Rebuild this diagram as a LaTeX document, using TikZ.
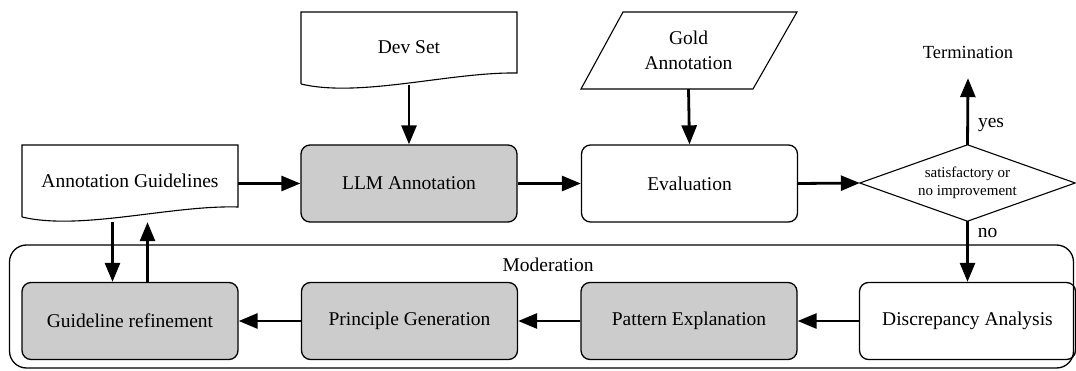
\documentclass[tikz,border=0pt]{standalone}
\usepackage{fontspec}
\setmainfont{Liberation Serif}
\newfontfamily\tnr{Liberation Serif}
\usetikzlibrary{arrows.meta}
\definecolor{boxgray}{HTML}{CCCCCC}
\begin{document}
\begin{tikzpicture}[x=1pt,y=-1pt,
  every node/.style={font=\tnr\fontsize{19.5}{24}\selectfont},
  box/.style={draw,line width=1.3pt,rounded corners=9pt,minimum width=216pt,minimum height=77pt,inner sep=0pt},
  gbox/.style={box,fill=boxgray},
  ghost/.style={minimum width=216pt,inner sep=0pt},
  shapeline/.style={draw,line width=1.1pt,line join=miter},
  arr/.style={line width=2.8pt,-{Triangle[length=19pt,width=15pt]}},
  lab/.style={inner sep=0pt}]
\useasboundingbox (0,0) rectangle (1076,371);

% Moderation container
\node[draw,line width=1.3pt,rounded corners=17pt,minimum width=1064pt,minimum height=123pt,inner sep=0pt] (mod) at (541.5,306.5) {};
\node[lab] (modlab) at (548,265) {Moderation};

% Dev Set document
\draw[shapeline] (301,84) -- (301,12) -- (517,12) -- (517,73) .. controls (450,72) and (360,98) .. (301,84);
\node[ghost,minimum height=73pt] (dev) at (409,48.5) {\raisebox{3.5pt}{Dev Set}};

% Annotation Guidelines document
\draw[shapeline] (22,217) -- (22,145) -- (238,145) -- (238,207) .. controls (171,205) and (81,231) .. (22,217);
\node[ghost,minimum height=77pt] (gl) at (130,183.5) {\raisebox{5.5pt}{Annotation Guidelines}};

% Gold Annotation parallelogram
\draw[shapeline] (623,12) -- (797,12) -- (753,89) -- (581,89) -- cycle;
\node[ghost,minimum width=172pt,minimum height=77pt,align=center,font=\tnr\fontsize{19.5}{25}\selectfont] (gold) at (688.5,50.5) {Gold\\Annotation};

% Main row
\node[gbox] (llm) at (409,183.5) {LLM Annotation};
\node[box] (eval) at (689.5,183.5) {Evaluation};

% Decision diamond
\node[minimum width=215pt,minimum height=76pt,inner sep=0pt,align=center,font=\tnr\fontsize{15}{18}\selectfont] (dec) at (967.5,183) {satisfactory or\\no improvement};
\draw[shapeline] (dec.west) -- (dec.north) -- (dec.east) -- (dec.south) -- cycle;

\node[lab,minimum height=52pt,font=\tnr\fontsize{18.5}{22}\selectfont] (term) at (968,52) {Termination};

% Bottom row
\node[gbox] (ref) at (130,321) {Guideline refinement};
\node[gbox] (prin) at (409.5,321) {Principle Generation};
\node[gbox] (pat) at (689,321) {Pattern Explanation};
\node[box] (disc) at (967.5,321) {Discrepancy Analysis};

% Connectors
\draw[arr] (dev.south) -- (llm.north);
\draw[arr] (gold.south) -- (eval.north);
\draw[arr] (gl.east) -- (llm.west);
\draw[arr] (llm.east) -- (eval.west);
\draw[arr] (eval.east) -- (dec.west);
\draw[arr] (dec.north) -- node[right,lab,xshift=9pt,pos=0.3] (yes) {yes} (term.south);
\draw[arr] (dec.south) -- node[right,lab,xshift=9pt,pos=0.2] (no) {no} (disc.north);
\draw[arr] (disc.west) -- (pat.east);
\draw[arr] (pat.west) -- (prin.east);
\draw[arr] (prin.west) -- (ref.east);
\coordinate (gd) at ([xshift=-17.5pt]gl.south);
\coordinate (gu) at ([xshift=17.5pt]gl.south);
\draw[arr] (gd) -- (gd |- ref.north);
\draw[arr] (gu |- ref.north) -- (gu);
\end{tikzpicture}
\end{document}
